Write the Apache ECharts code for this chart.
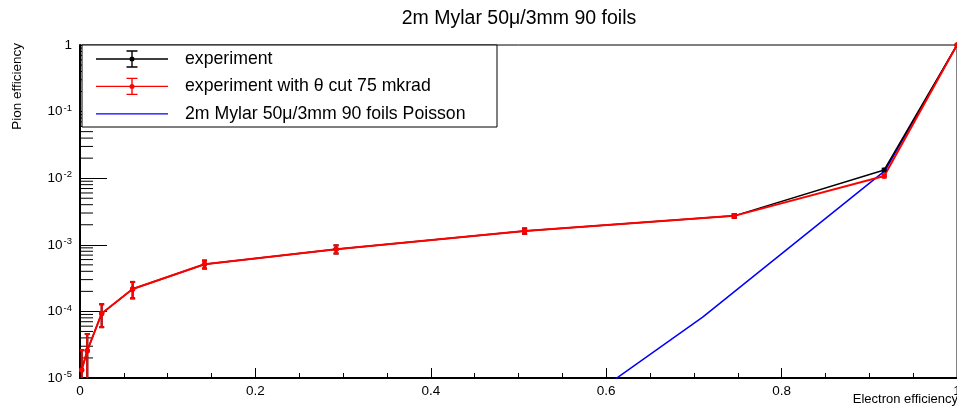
<!DOCTYPE html>
<html>
<head>
<meta charset="utf-8">
<script src="https://cdn.jsdelivr.net/npm/echarts@6/dist/echarts.min.js"></script>
<style>
html, body { margin: 0; padding: 0; background: #fff; }
#chart { width: 957px; height: 409px; }
</style>
</head>
<body>
<div id="chart"></div>
<script>
/* values */
var electron_eff = [0.0019, 0.0083, 0.0247, 0.060, 0.142, 0.292, 0.507, 0.746, 0.917, 1.0];
var pion_exp = [1.32e-5, 2.57e-5, 9.3e-5, 2.17e-4, 5.1e-4, 8.6e-4, 1.61e-3, 2.72e-3, 1.33e-2, 1.0];
var pion_exp_err = [1.3e-5, 2.0e-5, 3.5e-5, 6.0e-5, 7.0e-5, 1.2e-4, 1.5e-4, 1.8e-4, 6.0e-4, 0];
var pion_cut = [1.32e-5, 2.57e-5, 9.3e-5, 2.17e-4, 5.1e-4, 8.6e-4, 1.61e-3, 2.72e-3, 1.08e-2, 1.0];
var pion_cut_err = [1.3e-5, 2.0e-5, 3.5e-5, 6.0e-5, 7.0e-5, 1.2e-4, 1.5e-4, 1.8e-4, 6.0e-4, 0];
var poisson_eff = [0.600, 0.710, 0.918, 1.0];
var poisson_pion = [7.7e-6, 8.2e-5, 1.3e-2, 1.0];
var y_decades = [-5, -4, -3, -2, -1, 0];

var FONT = 'Liberation Sans, Arial, sans-serif';
var NAME_EXP = 'experiment';
var NAME_CUT = 'experiment with \u03b8 cut 75 mkrad';
var NAME_POISSON = '2m Mylar 50\u03bc/3mm 90 foils Poisson';

function pairs(xs, ys, errs)
{
    var out = [];
    for (var i = 0; i < xs.length; i++) {
        if (errs)
            out.push([xs[i], ys[i], errs[i]]);
        else
            out.push([xs[i], ys[i]]);
    }
    return out;
}

/* log minor ticks 2..9 x 10^n */
var minor_ticks = [];
for (var d = 0; d < y_decades.length - 1; d++) {
    for (var k = 2; k <= 9; k++)
        minor_ticks.push([0, k * Math.pow(10, y_decades[d])]);
}

function error_bar_item(color)
{
    return function (params, api) {
        var x = api.value(0), y = api.value(1), e = api.value(2);
        if (!e)
            return;
        var lo = y - e;
        if (lo <= 0)
            lo = y * 1e-3;
        var top = api.coord([x, y + e]);
        var bottom = api.coord([x, lo]);
        var style = {stroke: color, lineWidth: 2};
        return {
            type: 'group',
            children: [
                {type: 'line', shape: {x1: top[0], y1: top[1], x2: bottom[0], y2: bottom[1]}, style: style},
                {type: 'line', shape: {x1: top[0] - 2.5, y1: top[1], x2: top[0] + 2.5, y2: top[1]}, style: style},
                {type: 'line', shape: {x1: bottom[0] - 2.5, y1: bottom[1], x2: bottom[0] + 2.5, y2: bottom[1]}, style: style}
            ]
        };
    };
}

function minor_tick_item(params, api)
{
    var p = api.coord([api.value(0), api.value(1)]);
    return {
        type: 'line',
        shape: {x1: p[0], y1: p[1], x2: p[0] + 13, y2: p[1]},
        style: {stroke: '#000', lineWidth: 1}
    };
}

var corners = 'M0,0h0.01v0.01h-0.01z M71.99,23.99h0.01v0.01h-0.01z ';
var icon_err = 'path://' + corners +
    'M0,11.3h72v1.4h-72z M35.3,4h1.4v16h-1.4z M30.5,3.3h11v1.4h-11z M30.5,19.3h11v1.4h-11z ' +
    'M33.5,12a2.5,2.5 0 1,1 5,0a2.5,2.5 0 1,1 -5,0z';
var icon_line = 'path://' + corners + 'M0,11.4h72v1.3h-72z';

var chart = echarts.init(document.getElementById('chart'), null, {renderer: 'canvas'});
var option = {
    animation: false,
    textStyle: {fontFamily: FONT},
    grid: {
        left: 80, right: 0, top: 45, bottom: 31,
        outerBoundsMode: 'none',
        containLabel: false,
        show: true, borderColor: '#000', borderWidth: 1
    },
    graphic: [
        {
            type: 'text', x: 519, y: 9, z: 5,
            style: {text: '2m Mylar 50\u03bc/3mm 90 foils', font: '19.5px ' + FONT,
                    fill: '#000', textAlign: 'center', textVerticalAlign: 'top'}
        },
        {
            type: 'text', x: 17, y: 43, rotation: Math.PI / 2, z: 5,
            style: {text: 'Pion efficiency', font: '13.5px ' + FONT,
                    fill: '#000', textAlign: 'right', textVerticalAlign: 'middle'}
        },
        {
            type: 'text', x: 958, y: 393, z: 5,
            style: {text: 'Electron efficiency', font: '13px ' + FONT,
                    fill: '#000', textAlign: 'right', textVerticalAlign: 'top'}
        },
        {
            type: 'rect', z: 3,
            shape: {x: 82, y: 45, width: 415, height: 82},
            style: {fill: '#fff', stroke: '#000', lineWidth: 1}
        }
    ],
    legend: {
        orient: 'vertical',
        left: 96, top: 47,
        padding: 0,
        itemWidth: 72, itemHeight: 24, itemGap: 3.4,
        selectedMode: false,
        itemStyle: {borderWidth: 0},
        textStyle: {fontFamily: FONT, fontSize: 17.7, color: '#000', padding: [0, 0, 0, 12]},
        data: [
            {name: NAME_EXP, icon: icon_err},
            {name: NAME_CUT, icon: icon_err},
            {name: NAME_POISSON, icon: icon_line}
        ]
    },
    xAxis: {
        type: 'value',
        min: 0, max: 1, interval: 0.2,
        axisLine: {onZero: false, lineStyle: {color: '#000', width: 2}},
        axisTick: {inside: true, length: 10, lineStyle: {color: '#000', width: 1}},
        minorTick: {show: true, splitNumber: 4, length: 5, lineStyle: {color: '#000', width: 1}},
        axisLabel: {color: '#000', fontSize: 13.5, margin: 6, fontFamily: FONT},
        splitLine: {show: false}
    },
    yAxis: {
        type: 'log',
        logBase: 10,
        min: 1e-5, max: 1,
        axisLine: {lineStyle: {color: '#000', width: 2}},
        axisTick: {inside: true, length: 27, lineStyle: {color: '#000', width: 1}},
        splitLine: {show: false},
        axisLabel: {
            color: '#000', fontSize: 13.5, margin: 8, fontFamily: FONT,
            formatter: function (v) {
                var e = Math.round(Math.log(v) / Math.LN10);
                if (e === 0)
                    return '1';
                return '10{sup|' + e + '}';
            },
            rich: {
                sup: {fontSize: 9.5, verticalAlign: 'top', padding: [0, 0, 7, 1], fontFamily: FONT, color: '#000'}
            }
        }
    },
    series: [
        {
            name: 'minor_ticks',
            type: 'custom',
            silent: true,
            z: 1,
            renderItem: minor_tick_item,
            data: minor_ticks
        },
        {
            name: NAME_POISSON,
            type: 'line',
            showSymbol: false,
            symbol: 'none',
            clip: true,
            color: '#0000ff',
            lineStyle: {color: '#0000ff', width: 1.5},
            data: pairs(poisson_eff, poisson_pion)
        },
        {
            name: NAME_EXP,
            type: 'line',
            symbol: 'circle', symbolSize: 5,
            clip: true,
            color: '#000',
            itemStyle: {color: '#000'},
            lineStyle: {color: '#000', width: 1.5},
            data: pairs(electron_eff, pion_exp)
        },
        {
            name: 'exp_err',
            type: 'custom',
            clip: true,
            renderItem: error_bar_item('#000'),
            data: pairs(electron_eff, pion_exp, pion_exp_err)
        },
        {
            name: NAME_CUT,
            type: 'line',
            symbol: 'circle', symbolSize: 5.5,
            clip: true,
            color: '#ff0000',
            itemStyle: {color: '#ff0000'},
            lineStyle: {color: '#ff0000', width: 2},
            data: pairs(electron_eff, pion_cut)
        },
        {
            name: 'cut_err',
            type: 'custom',
            clip: true,
            renderItem: error_bar_item('#ff0000'),
            data: pairs(electron_eff, pion_cut, pion_cut_err)
        }
    ]
};
chart.setOption(option);
</script>
</body>
</html>
